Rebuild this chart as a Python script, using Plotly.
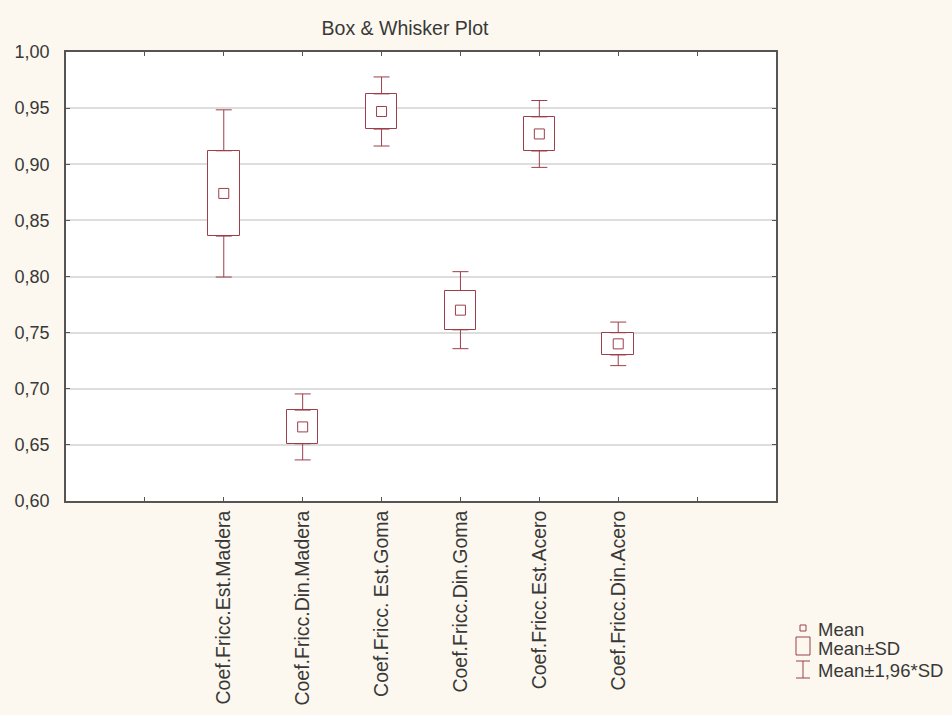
import plotly.graph_objects as go

# Friction coefficient samples: mean and standard deviation per variable
categories = [
    "Coef.Fricc.Est.Madera",
    "Coef.Fricc.Din.Madera",
    "Coef.Fricc. Est.Goma",
    "Coef.Fricc.Din.Goma",
    "Coef.Fricc.Est.Acero",
    "Coef.Fricc.Din.Acero",
]
means = [0.874, 0.666, 0.947, 0.770, 0.927, 0.740]
sds = [0.0380, 0.0150, 0.0157, 0.0175, 0.0152, 0.0099]
y_ticks = [0.60, 0.65, 0.70, 0.75, 0.80, 0.85, 0.90, 0.95, 1.00]

Z = 1.96
LINE = "#9c3f4b"
TEXT = "#383838"
BG = "#fcf8ef"
FONT = "Liberation Sans, Arial, sans-serif"

positions = [i + 2 for i in range(len(categories))]
lows = [m - s for m, s in zip(means, sds)]
spans = [2 * s for s in sds]
upper_edge = [m + s for m, s in zip(means, sds)]
whisker_ext = [(Z - 1) * s for s in sds]

fig = go.Figure()

# Mean ± SD boxes
fig.add_trace(go.Bar(
    x=positions, y=spans, base=lows, width=0.4,
    marker=dict(color="white", line=dict(color=LINE, width=1)),
    showlegend=False, hoverinfo="skip",
))

# Whiskers from the box edges out to Mean ± 1.96*SD
fig.add_trace(go.Scatter(
    x=positions, y=upper_edge, mode="markers",
    marker=dict(size=1, color="rgba(0,0,0,0)"),
    error_y=dict(type="data", symmetric=False, array=whisker_ext,
                 arrayminus=[0] * len(sds), width=8, thickness=1, color=LINE),
    showlegend=False, hoverinfo="skip",
))
fig.add_trace(go.Scatter(
    x=positions, y=lows, mode="markers",
    marker=dict(size=1, color="rgba(0,0,0,0)"),
    error_y=dict(type="data", symmetric=False, array=[0] * len(sds),
                 arrayminus=whisker_ext, width=8, thickness=1, color=LINE),
    showlegend=False, hoverinfo="skip",
))

# Mean markers
fig.add_trace(go.Scatter(
    x=positions, y=means, mode="markers",
    marker=dict(symbol="square-open", size=10, color=LINE, line=dict(width=1, color=LINE)),
    showlegend=False,
))

# Plot area geometry (pixels) used to place the hand-drawn legend
L, R, T, B = 66, 176, 52, 214
W, H = 952, 715
PW, PH = W - L - R, H - T - B


def px(xp):
    return (xp - L) / PW


def py(yp):
    return (H - B - yp) / PH


shapes = [
    dict(type="rect", xref="paper", yref="paper",
         x0=px(800), x1=px(806), y0=py(631), y1=py(625),
         line=dict(color=LINE, width=1)),
    dict(type="rect", xref="paper", yref="paper",
         x0=px(796), x1=px(810), y0=py(655), y1=py(637),
         line=dict(color=LINE, width=1)),
    dict(type="line", xref="paper", yref="paper",
         x0=px(803), x1=px(803), y0=py(678), y1=py(661),
         line=dict(color=LINE, width=1)),
    dict(type="line", xref="paper", yref="paper",
         x0=px(796), x1=px(810), y0=py(661), y1=py(661),
         line=dict(color=LINE, width=1)),
    dict(type="line", xref="paper", yref="paper",
         x0=px(796), x1=px(810), y0=py(678), y1=py(678),
         line=dict(color=LINE, width=1)),
]

legend_items = [("Mean", 629), ("Mean±SD", 648), ("Mean±1,96*SD", 670)]
annotations = [
    dict(text=t, xref="paper", yref="paper", x=px(816), y=py(yc),
         xanchor="left", yanchor="middle", showarrow=False,
         font=dict(size=18.5, color=TEXT, family=FONT))
    for t, yc in legend_items
]

fig.update_layout(
    width=W, height=H,
    margin=dict(l=L, r=R, t=T, b=B, autoexpand=False),
    paper_bgcolor=BG, plot_bgcolor="white",
    separators=",.",
    font=dict(family=FONT, color=TEXT, size=18),
    title=dict(text="Box & Whisker Plot", x=(405 - L) / PW, xref="paper",
               xanchor="center", y=1 - 28 / H, yanchor="middle",
               font=dict(size=19.5, color=TEXT, family=FONT)),
    showlegend=False,
    bargap=0,
    shapes=shapes,
    annotations=annotations,
    xaxis=dict(
        range=[0, len(categories) + 3],
        tickmode="array",
        tickvals=[1] + positions + [len(categories) + 2],
        ticktext=[""] + categories + [""],
        tickangle=-90,
        tickfont=dict(size=19.5, color=TEXT),
        showgrid=False, zeroline=False, automargin=False,
        showline=True, linecolor="#555555", linewidth=1.5, mirror="ticks",
        ticks="inside", ticklen=4, tickcolor="#555555",
    ),
    yaxis=dict(
        range=[0.6, 1.0],
        tickmode="array", tickvals=y_ticks, tickformat=".2f",
        tickfont=dict(size=18, color=TEXT),
        showgrid=True, gridcolor="#dddddd", gridwidth=1.5,
        zeroline=False, automargin=False,
        showline=True, linecolor="#555555", linewidth=1.5, mirror="ticks",
        ticks="inside", ticklen=4, tickcolor="#555555",
        ticklabelstandoff=11,
    ),
)

fig.write_html("out.html")
